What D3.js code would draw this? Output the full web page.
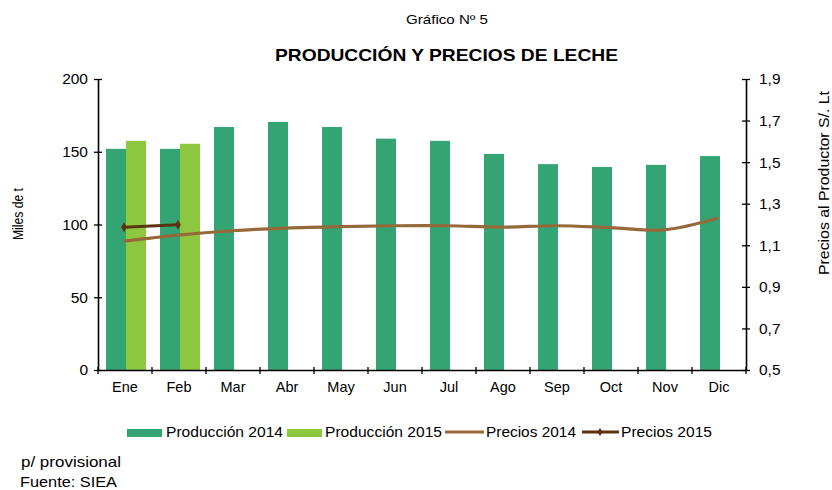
<!DOCTYPE html>
<html><head><meta charset="utf-8">
<script src="https://cdn.jsdelivr.net/npm/d3@7"></script>
<style>body{margin:0;background:#fff}svg text{font-family:"Liberation Sans",Arial,sans-serif;fill:#000}</style>
</head><body><svg id="c" width="832" height="490"></svg>
<script>
const months = ["Ene","Feb","Mar","Abr","May","Jun","Jul","Ago","Sep","Oct","Nov","Dic"];
const prod2014 = [152,152,167,170.5,167,159,157.5,148.5,141.5,139.5,141,147];
const prod2015 = [157.5,155.5];
const precios2014 = [1.12,1.149,1.17,1.183,1.19,1.194,1.194,1.187,1.194,1.185,1.174,1.231];
const precios2015 = [1.187,1.199];
const leftTicks = [0,50,100,150,200];
const rightTicks = [0.5,0.7,0.9,1.1,1.3,1.5,1.7,1.9];

const svg = d3.select("#c");
const L=98,R=746,T=79,B=370;
const x = d3.scaleBand().domain(months).range([L,R]);
const yL = d3.scaleLinear().domain([0,200]).range([B,T]);
const yR = d3.scaleLinear().domain([0.5,1.9]).range([B,T]);
const c14="#34a474", c15="#8dc63f", p14="#96693a", p15="#5c3311";
const bw=20;

function fitText(sel, len){ return sel.attr("textLength",len).attr("lengthAdjust","spacingAndGlyphs"); }

fitText(svg.append("text").attr("x",406).attr("y",24).style("font-size","13px").text("Gráfico Nº 5"),82);
fitText(svg.append("text").attr("x",275).attr("y",61).style("font-size","17px").style("font-weight","bold").text("PRODUCCIÓN Y PRECIOS DE LECHE"),343);

// bars
svg.append("g").selectAll("rect").data(prod2014).join("rect")
 .attr("x",(d,i)=>x(months[i])+x.bandwidth()/2-bw+1).attr("width",bw)
 .attr("y",d=>yL(d)).attr("height",d=>B-yL(d)).attr("fill",c14);
svg.append("g").selectAll("rect").data(prod2015).join("rect")
 .attr("x",(d,i)=>x(months[i])+x.bandwidth()/2+1).attr("width",bw)
 .attr("y",d=>yL(d)).attr("height",d=>B-yL(d)).attr("fill",c15);

// axes
const gl = svg.append("g").attr("transform",`translate(${L},0)`)
 .call(d3.axisLeft(yL).tickValues(leftTicks).tickSize(0).tickPadding(10));
gl.selectAll(".tick").append("line").attr("x1",-4).attr("x2",4).attr("stroke","#000").attr("stroke-width",1.3);
const gr = svg.append("g").attr("transform",`translate(${R},0)`)
 .call(d3.axisRight(yR).tickValues(rightTicks).tickFormat(d=>d3.format(".1f")(d).replace(".",",")).tickSize(0).tickPadding(13));
gr.selectAll(".tick").append("line").attr("x1",-4).attr("x2",4).attr("stroke","#000").attr("stroke-width",1.3);
const gx = svg.append("g").attr("transform",`translate(0,${B})`)
 .call(d3.axisBottom(x).tickSize(0).tickPadding(12));
gx.selectAll(".tick text").style("font-size","14.5px");
const bticks = d3.range(13).map(i=>L+i*x.step());
gx.selectAll("line.bt").data(bticks).join("line").attr("class","bt")
 .attr("x1",d=>d).attr("x2",d=>d).attr("y1",-3).attr("y2",4).attr("stroke","#000").attr("stroke-width",1.3);
[gl,gr,gx].forEach(g=>{g.select(".domain").attr("stroke","#000").attr("stroke-width",1.6);g.selectAll(".tick text").style("fill","#000");});
gl.selectAll(".tick text").style("font-size","15.5px");
gr.selectAll(".tick text").style("font-size","15.5px");

// lines
const line = d3.line().curve(d3.curveCatmullRom.alpha(0.5)).x((d,i)=>x(months[i])+x.bandwidth()/2-1).y(d=>yR(d));
svg.append("path").datum(precios2014).attr("d",line).attr("fill","none").attr("stroke",p14).attr("stroke-width",3.2);
svg.append("path").datum(precios2015).attr("d",line).attr("fill","none").attr("stroke",p15).attr("stroke-width",3);
svg.append("g").selectAll("path").data(precios2015).join("path")
 .attr("d",d3.symbol(d3.symbolDiamond,28)).attr("fill",p15)
 .attr("transform",(d,i)=>`translate(${x(months[i])+x.bandwidth()/2-1},${yR(d)})`);

// axis titles
fitText(svg.append("text").attr("transform","translate(23,240) rotate(-90)").style("font-size","14px").text("Miles de t"),52);
fitText(svg.append("text").attr("transform","translate(829,275) rotate(-90)").style("font-size","15px").text("Precios al Productor S/.  Lt"),184);

// legend
const ly=432;
const leg = svg.append("g");
leg.append("rect").attr("x",127).attr("y",ly-3).attr("width",35).attr("height",8).attr("fill",c14);
fitText(leg.append("text").attr("x",166).attr("y",437).style("font-size","15.5px").text("Producción 2014"),117);
leg.append("rect").attr("x",287).attr("y",ly-3).attr("width",35).attr("height",8).attr("fill",c15);
fitText(leg.append("text").attr("x",325).attr("y",437).style("font-size","15.5px").text("Producción 2015"),117);
leg.append("line").attr("x1",445).attr("x2",484).attr("y1",ly).attr("y2",ly).attr("stroke",p14).attr("stroke-width",3);
fitText(leg.append("text").attr("x",486).attr("y",437).style("font-size","15.5px").text("Precios 2014"),90);
leg.append("line").attr("x1",582).attr("x2",619).attr("y1",ly).attr("y2",ly).attr("stroke",p15).attr("stroke-width",3);
leg.append("path").attr("d",d3.symbol(d3.symbolDiamond,20)).attr("fill",p15).attr("transform",`translate(600,${ly})`);
fitText(leg.append("text").attr("x",621).attr("y",437).style("font-size","15.5px").text("Precios 2015"),91);

fitText(svg.append("text").attr("x",21).attr("y",467).style("font-size","15px").text("p/ provisional"),100);
fitText(svg.append("text").attr("x",20).attr("y",487).style("font-size","15px").text("Fuente:  SIEA"),97);
</script></body></html>
